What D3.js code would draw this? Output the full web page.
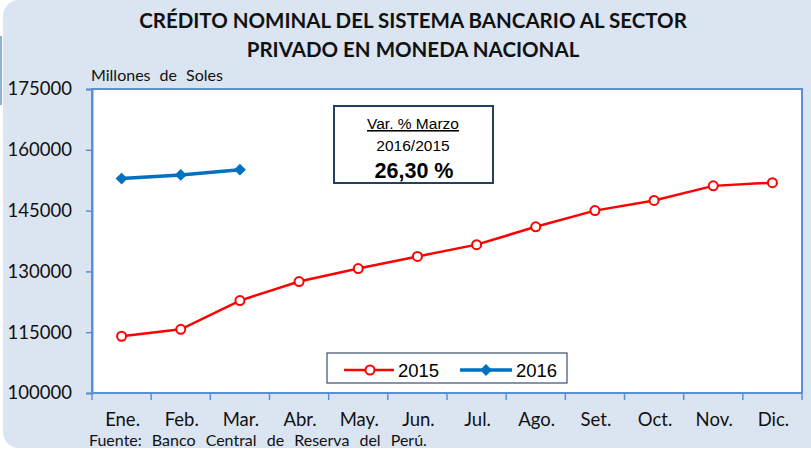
<!DOCTYPE html>
<html>
<head>
<meta charset="utf-8">
<script src="https://cdn.jsdelivr.net/npm/d3@7"></script>
<style>
  body { margin: 0; background: #fff; }
  svg { display: block; }
  text { font-family: Lato, "Liberation Sans", sans-serif; }
  .arial { font-family: "Liberation Sans", Arial, sans-serif; }
</style>
</head>
<body>
<div id="chart"></div>
<script>
// Datos (millones de soles)
let meses = ['Ene.', 'Feb.', 'Mar.', 'Abr.', 'May.', 'Jun.', 'Jul.', 'Ago.', 'Set.', 'Oct.', 'Nov.', 'Dic.'];
let datos2015 = [114000, 115700, 122800, 127500, 130700, 133700, 136600, 141000, 145000, 147500, 151100, 151900];
let datos2016 = [152900, 153800, 155100];
let ticksY = [100000, 115000, 130000, 145000, 160000, 175000];

let W = 811, H = 452;
let margin = {top: 89, right: 9, bottom: 59, left: 92};
let width = W - margin.left - margin.right,
    height = H - margin.top - margin.bottom;

let svg = d3.select('#chart').append('svg')
    .attr('width', W)
    .attr('height', H);

//Fondo
svg.append('rect')
    .attr('x', 3).attr('y', 0)
    .attr('width', 840).attr('height', 448)
    .attr('rx', 16)
    .attr('fill', '#dbe5f1');
svg.append('line')
    .attr('x1', 1).attr('x2', 1).attr('y1', 36).attr('y2', 105)
    .attr('stroke', '#8eb0de').attr('stroke-width', 2);

//Título
let titulo = svg.append('text')
    .attr('text-anchor', 'middle')
    .attr('font-weight', 'bold')
    .attr('font-size', 20.5)
    .attr('fill', '#111');
titulo.append('tspan').attr('x', 413).attr('y', 28).text('CRÉDITO NOMINAL DEL SISTEMA BANCARIO AL SECTOR');
titulo.append('tspan').attr('x', 413).attr('y', 57).text('PRIVADO EN MONEDA NACIONAL');

svg.append('text')
    .attr('x', 91).attr('y', 81)
    .attr('font-size', 16)
    .attr('word-spacing', 5)
    .attr('fill', '#111')
    .text('Millones de Soles');

let chart = svg.append('g')
    .attr('transform', 'translate(' + margin.left + ',' + margin.top + ')');

chart.append('rect')
    .attr('width', width).attr('height', height)
    .attr('fill', '#fff')
    .attr('stroke', '#5b8fd5')
    .attr('stroke-width', 2);

//Escalas
let x_c = d3.scaleBand()
    .domain(meses)
    .range([0, width]);

let y_c = d3.scaleLinear()
    .domain([100000, 175000])
    .range([height, 0]);

//Eje Y
chart.append('g')
    .call(d3.axisLeft(y_c).tickValues(ticksY).tickSize(6).tickPadding(14).tickFormat(d3.format('d')))
    .call(function(g){
        g.select('.domain').attr('stroke', '#5b8fd5').attr('stroke-width', 2);
        g.selectAll('.tick line').attr('stroke', '#5b8fd5').attr('stroke-width', 1.5);
        g.selectAll('.tick text').attr('font-size', 18.5).attr('fill', '#111').style('font-family', 'Lato, sans-serif');
    });

//Eje X
let xAxis = chart.append('g')
    .attr('transform', 'translate(0,' + height + ')');
xAxis.append('line')
    .attr('x1', 0).attr('x2', width)
    .attr('stroke', '#5b8fd5').attr('stroke-width', 2);
xAxis.selectAll('.xtick')
    .data(meses.concat(['fin']))
    .enter()
    .append('line')
    .attr('x1', function(d, i) { return i * x_c.step(); })
    .attr('x2', function(d, i) { return i * x_c.step(); })
    .attr('y1', 0).attr('y2', 7)
    .attr('stroke', '#5b8fd5').attr('stroke-width', 1.5);
xAxis.selectAll('.xlabel')
    .data(meses)
    .enter()
    .append('text')
    .attr('x', function(d) { return x_c(d) + x_c.bandwidth() / 2 + 1; })
    .attr('y', 33)
    .attr('text-anchor', 'middle')
    .attr('font-size', 18.5)
    .attr('fill', '#111')
    .text(function(d) { return d; });

//Líneas
let line = d3.line()
    .x(function(d, i) { return x_c(meses[i]) + x_c.bandwidth() / 2; })
    .y(function(d) { return y_c(d); });

chart.append('path')
    .datum(datos2015)
    .attr('fill', 'none')
    .attr('stroke', '#ff0000')
    .attr('stroke-width', 2.5)
    .attr('d', line);

chart.selectAll('.circle-2015')
    .data(datos2015)
    .enter()
    .append('circle')
    .attr('cx', function(d, i) { return x_c(meses[i]) + x_c.bandwidth() / 2; })
    .attr('cy', function(d) { return y_c(d); })
    .attr('r', 4.5)
    .attr('fill', '#fff')
    .attr('stroke', '#ff0000')
    .attr('stroke-width', 2);

chart.append('path')
    .datum(datos2016)
    .attr('fill', 'none')
    .attr('stroke', '#0070c0')
    .attr('stroke-width', 3.5)
    .attr('d', line);

let diamante = d3.symbol().type(d3.symbolDiamond2).size(90);
chart.selectAll('.diamond-2016')
    .data(datos2016)
    .enter()
    .append('path')
    .attr('d', diamante)
    .attr('transform', function(d, i) { return 'translate(' + (x_c(meses[i]) + x_c.bandwidth() / 2) + ',' + y_c(d) + ')'; })
    .attr('fill', '#0070c0');

//Cuadro de variación
let cuadro = svg.append('g');
cuadro.append('rect')
    .attr('x', 334).attr('y', 106)
    .attr('width', 159).attr('height', 77)
    .attr('fill', '#fff')
    .attr('stroke', '#243f60')
    .attr('stroke-width', 2);
cuadro.append('text')
    .attr('class', 'arial')
    .attr('x', 413).attr('y', 129)
    .attr('text-anchor', 'middle')
    .attr('font-size', 15.5)
    .attr('text-decoration', 'underline')
    .text('Var. % Marzo');
cuadro.append('text')
    .attr('class', 'arial')
    .attr('x', 413).attr('y', 151)
    .attr('text-anchor', 'middle')
    .attr('font-size', 15.5)
    .text('2016/2015');
cuadro.append('text')
    .attr('class', 'arial')
    .attr('x', 414).attr('y', 178)
    .attr('text-anchor', 'middle')
    .attr('font-size', 21.5)
    .attr('font-weight', 'bold')
    .text('26,30 %');

//Leyenda
let leyenda = svg.append('g');
leyenda.append('rect')
    .attr('x', 327).attr('y', 353)
    .attr('width', 240).attr('height', 30)
    .attr('fill', '#fff')
    .attr('stroke', '#3b4e6b')
    .attr('stroke-width', 1.2);
leyenda.append('line')
    .attr('x1', 344).attr('x2', 394).attr('y1', 370).attr('y2', 370)
    .attr('stroke', '#ff0000').attr('stroke-width', 2.5);
leyenda.append('circle')
    .attr('cx', 370).attr('cy', 370).attr('r', 4.5)
    .attr('fill', '#fff').attr('stroke', '#ff0000').attr('stroke-width', 2);
leyenda.append('text')
    .attr('class', 'arial')
    .attr('x', 398).attr('y', 377)
    .attr('font-size', 18.5)
    .text('2015');
leyenda.append('line')
    .attr('x1', 460).attr('x2', 512).attr('y1', 370).attr('y2', 370)
    .attr('stroke', '#0070c0').attr('stroke-width', 3.5);
leyenda.append('path')
    .attr('d', diamante)
    .attr('transform', 'translate(486,370)')
    .attr('fill', '#0070c0');
leyenda.append('text')
    .attr('class', 'arial')
    .attr('x', 516).attr('y', 377)
    .attr('font-size', 18.5)
    .text('2016');

//Fuente
svg.append('text')
    .attr('x', 89).attr('y', 446)
    .attr('font-size', 16)
    .attr('word-spacing', 6)
    .attr('fill', '#111')
    .text('Fuente: Banco Central de Reserva del Perú.');
</script>
</body>
</html>
